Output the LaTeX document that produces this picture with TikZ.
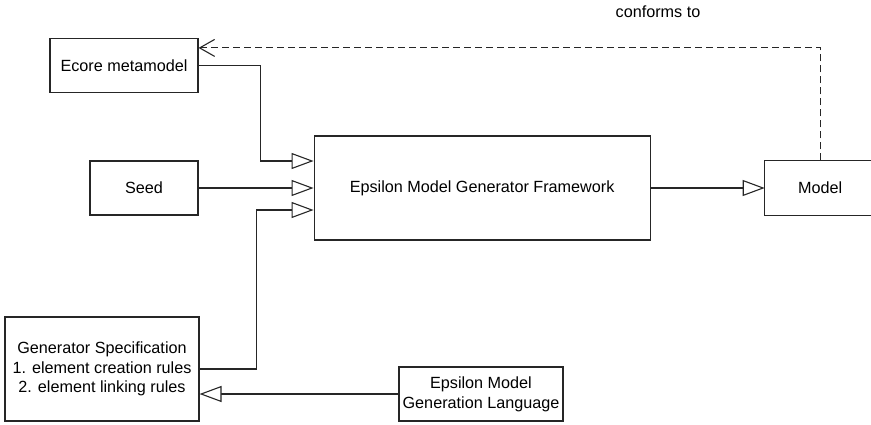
\documentclass[tikz,border=0pt]{standalone}
\usepackage{fontspec}
\setmainfont{Liberation Sans}
\usetikzlibrary{arrows.meta, positioning}

\begin{document}
\begin{tikzpicture}[
        x=1pt, y=-1pt,
        every node/.style={font=\fontsize{16.2}{19.7}\selectfont},
        ebox/.style={
            rectangle,
            draw=black!85,
            line width=1.1pt,
            fill=white,
            align=center,
            inner sep=2pt
        },
        boxline/.style={
            line width=1.1pt,
            draw=black!85
        },
        inarrow/.style={
            line width=1.1pt,
            draw=black!85,
            -{Triangle[open, length=22pt, width=16pt, fill=white]}
        },
        confarrow/.style={
            line width=1.1pt,
            draw=black!85,
            dash pattern=on 7pt off 4pt,
            -{Straight Barb[length=15pt, width=17pt]}
        }
        ]
        \useasboundingbox (0,0) rectangle (871,424);

        \node (seed) [ebox, minimum width=108pt, minimum height=54pt] at (144,188) {Seed};
        \node (ecore) [ebox, minimum width=148pt, minimum height=54pt, above=67pt of seed.north east, anchor=south east] {Ecore metamodel};
        \node (fw) [ebox, minimum width=336pt, minimum height=104pt, right=115pt of seed] {Epsilon Model Generator Framework};
        \node (model) [ebox, draw=none, minimum width=110pt, minimum height=54pt, right=114pt of fw] {Model};
        \node (gspec) [ebox, minimum width=194pt, minimum height=104pt] at (102,369) {Generator Specification\\1. element creation rules\\2. element linking rules};
        \node (emgl) [ebox, minimum width=164pt, minimum height=54pt] at (481,394) {Epsilon Model\\Generation Language};
        \node (conf) at (658,12) {conforms to};

        % model box runs off the right edge
        \draw [boxline] ([xshift=12pt]model.north east) -- (model.north west) -- (model.south west) -- ([xshift=12pt]model.south east);

        \draw [inarrow] (ecore.east) -- ++(62,0) |- ([yshift=27pt]fw.west);
        \draw [inarrow] (seed) -- (fw);
        \draw [inarrow] (gspec.east) -- ++(57,0) |- ([yshift=-22pt]fw.west);
        \draw [inarrow] (fw) -- (model);
        \draw [inarrow] (emgl.west) -- (emgl.west -| gspec.east);
        \draw [confarrow] (model.north) |- ([yshift=18pt]ecore.east);

    \end{tikzpicture}
\end{document}
